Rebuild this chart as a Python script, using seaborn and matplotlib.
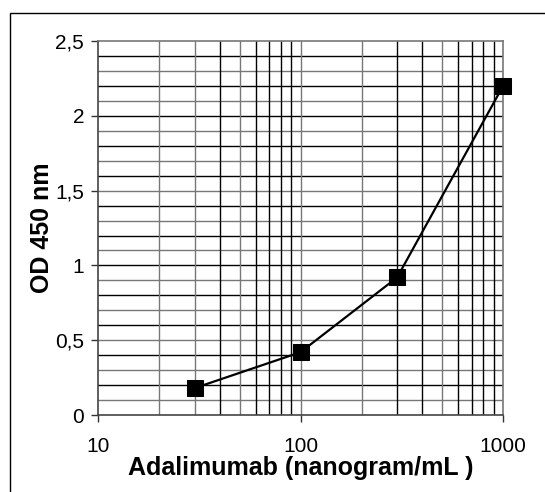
import numpy as np
import pandas as pd
import matplotlib
matplotlib.use('Agg')
import matplotlib.pyplot as plt
import matplotlib.ticker as mticker
from matplotlib.patches import Rectangle
import seaborn as sns

# data
conc_ng_ml = [30, 100, 300, 1000]
od_450 = [0.18, 0.42, 0.92, 2.2]

y_ticks = [0, 0.5, 1, 1.5, 2, 2.5]
y_tick_labels = ['0', '0,5', '1', '1,5', '2', '2,5']
x_ticks = [10, 100, 1000]
x_tick_labels = ['10', '100', '1000']

sns.set_style('white')
plt.rcParams['font.family'] = ['Liberation Sans', 'DejaVu Sans']
plt.rcParams['text.color'] = 'black'
plt.rcParams['axes.labelcolor'] = 'black'
plt.rcParams['xtick.color'] = 'black'
plt.rcParams['ytick.color'] = 'black'

df = pd.DataFrame({'conc': conc_ng_ml, 'od': od_450})

fig = plt.figure(figsize=(5.45, 4.92), dpi=100)
ax = fig.add_axes([0.18, 0.1565, 0.743, 0.760])

# grid: every 0.1 in y, every decade step in x
ax.set_xscale('log')
ax.set_xlim(10, 1000)
ax.set_ylim(0, 2.5)
for i, yv in enumerate(np.arange(1, 25) / 10):
    ax.axhline(yv, color='#000000' if i % 2 else '#777777', lw=1, zorder=1)
grid_x = [20, 30, 40, 50, 60, 70, 80, 90, 100, 200, 300, 400, 500, 600, 700, 800, 900]
for i, xv in enumerate(grid_x):
    ax.axvline(xv, color='#777777' if xv in (20, 30, 50, 100, 200, 500) else '#000000',
               lw=1, zorder=1)

sns.lineplot(data=df, x='conc', y='od', ax=ax, color='black', lw=1.6,
             marker='s', markersize=11, markeredgecolor='black', zorder=3,
             clip_on=False)

ax.set_yticks(y_ticks)
ax.set_yticklabels(y_tick_labels, fontsize=15)
ax.set_xticks(x_ticks)
ax.set_xticklabels(x_tick_labels, fontsize=15)
ax.xaxis.set_minor_locator(mticker.NullLocator())
ax.tick_params(axis='both', which='major', direction='out', length=5, width=1,
               color='#333333', bottom=True, left=True)
ax.tick_params(axis='x', pad=11)
ax.tick_params(axis='y', pad=5)

for side in ['left', 'bottom']:
    ax.spines[side].set_color('#444444')
    ax.spines[side].set_linewidth(1.2)
for side in ['top', 'right']:
    ax.spines[side].set_color('#777777')
    ax.spines[side].set_linewidth(1.2)

ax.set_xlabel('Adalimumab (nanogram/mL )', fontsize=18, fontweight='bold', labelpad=0)
ax.set_ylabel('OD 450 nm', fontsize=18, fontweight='bold', labelpad=1)

# outer chart frame
fig.patches.append(Rectangle((10 / 545, -0.1), 1.2, 1 - 13 / 492 + 0.1,
                             transform=fig.transFigure, fill=False,
                             edgecolor='black', lw=1))

fig.savefig('out.png', dpi=100)
